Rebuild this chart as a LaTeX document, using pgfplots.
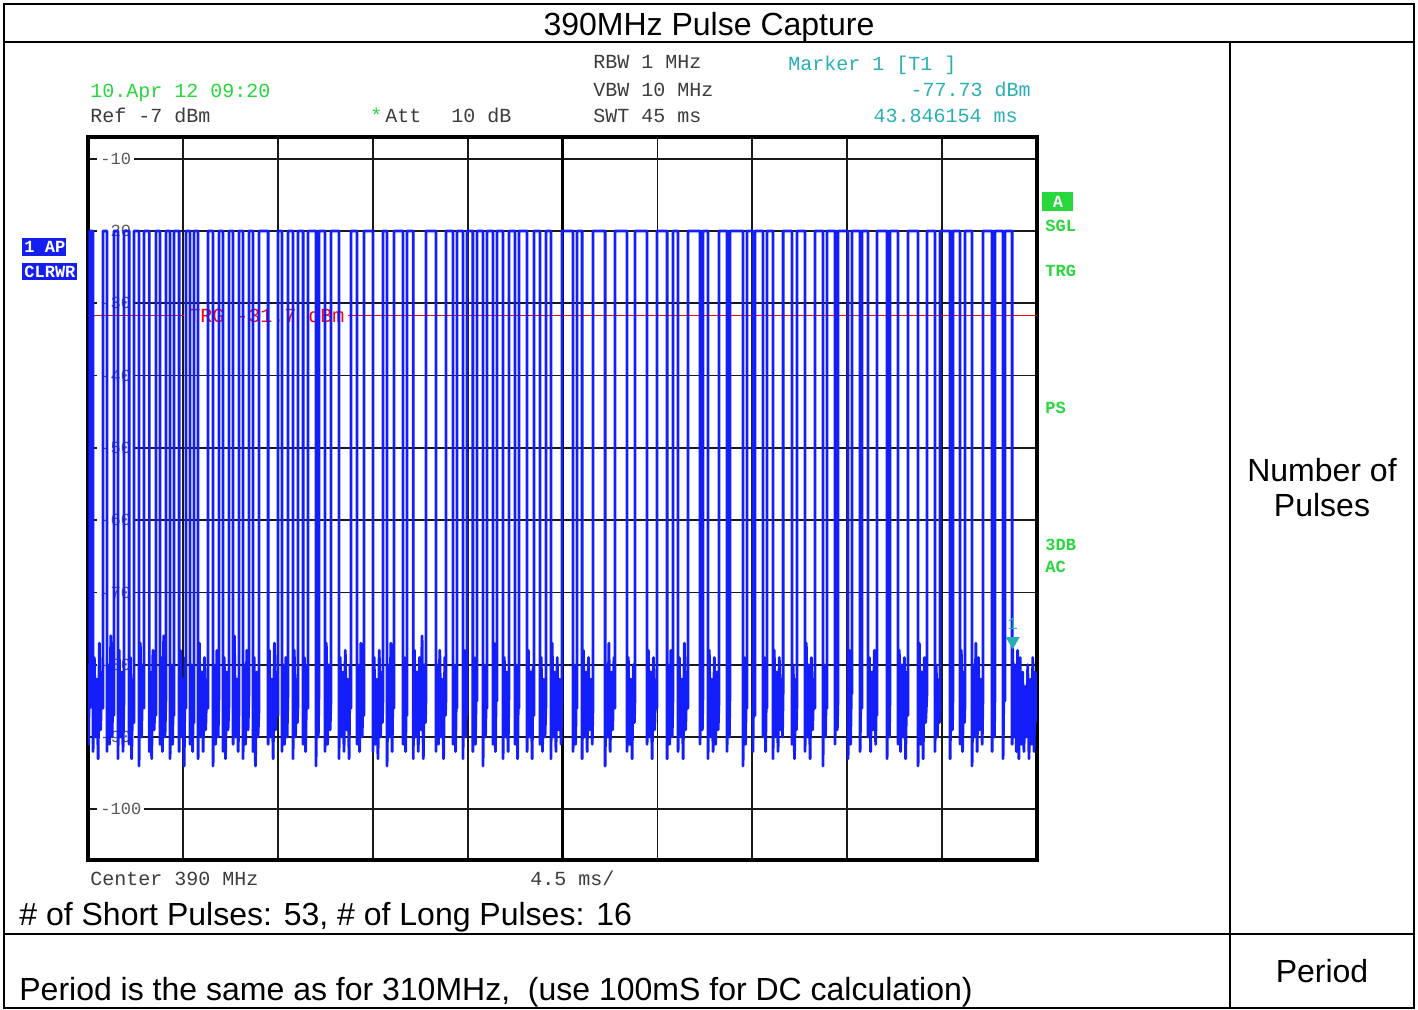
\documentclass[border=0pt]{standalone}
\usepackage{fontspec}
\setmainfont{Liberation Sans}
\newfontfamily\mono{Liberation Mono}
\usepackage{pgfplots}
\pgfplotsset{compat=1.18}

\definecolor{trace}{RGB}{20,30,250}
\definecolor{fsgreen}{RGB}{40,215,60}
\definecolor{fsteal}{RGB}{40,175,180}
\definecolor{fsblue}{RGB}{20,30,240}
\definecolor{fsgray}{RGB}{60,60,60}

\newcommand{\monof}[1]{\mono\fontsize{#1}{#1}\selectfont}
\newcommand{\labf}[1]{\mono\bfseries\fontsize{#1}{#1}\selectfont}
\newcommand{\cellf}{\fontsize{16}{16}\selectfont}

\begin{document}
\begin{tikzpicture}[x=0.5pt,y=0.5pt]
\useasboundingbox (0,0) rectangle (1418,1010);

% table frame
\draw[line width=1pt] (4,2) rectangle (1414,1006);
\draw[line width=1pt] (4,968) -- (1414,968);
\draw[line width=1pt] (4,76) -- (1414,76);
\draw[line width=1pt] (1230,968) -- (1230,2);

% table texts
\node[anchor=base, font=\cellf, inner sep=0] at (709,974) {390MHz Pulse Capture};
\node[anchor=base, font=\cellf, inner sep=0] at (1322,528) {Number of};
\node[anchor=base, font=\cellf, inner sep=0] at (1322,493) {Pulses};
\node[anchor=base, font=\cellf, inner sep=0] at (1322,27) {Period};
\node[anchor=base west, font=\cellf, inner sep=0] at (19,84) {\# of Short Pulses: 53, \# of Long Pulses: 16};
\node[anchor=base west, font=\cellf, inner sep=0] at (19,9) {Period is the same as for 310MHz,\ \ (use 100mS for DC calculation)};

% analyzer header
\node[anchor=base west, inner sep=0, text=fsgreen, font=\monof{10}] at (90,912) {10.Apr 12 09:20};
\node[anchor=base west, inner sep=0, text=fsgray, font=\monof{10}] at (90,887) {Ref -7 dBm};
\node[anchor=base west, inner sep=0, text=fsgreen, font=\monof{10}] at (370,887) {*};
\node[anchor=base west, inner sep=0, text=fsgray, font=\monof{10}] at (385,887) {Att};
\node[anchor=base west, inner sep=0, text=fsgray, font=\monof{10}] at (451,887) {10 dB};
\node[anchor=base west, inner sep=0, text=fsgray, font=\monof{10}] at (593,941) {RBW 1 MHz};
\node[anchor=base west, inner sep=0, text=fsgray, font=\monof{10}] at (593,913) {VBW 10 MHz};
\node[anchor=base west, inner sep=0, text=fsgray, font=\monof{10}] at (593,887) {SWT 45 ms};
\node[anchor=base west, inner sep=0, text=fsteal, font=\monof{10}] at (788,939) {Marker 1 [T1 ]};
\node[anchor=base east, inner sep=0, text=fsteal, font=\monof{10}] at (1031,913) {-77.73 dBm};
\node[anchor=base east, inner sep=0, text=fsteal, font=\monof{10}] at (1018,887) {43.846154 ms};
\node[anchor=base west, inner sep=0, text=fsgray, font=\monof{10}] at (90,124) {Center 390 MHz};
\node[anchor=base west, inner sep=0, text=fsgray, font=\monof{10}] at (530,124) {4.5 ms/};

% side annotations
\fill[fsblue] (22,754) rectangle (66,772);
\begin{scope}
\clip (22,754) rectangle (66,772);
\node[anchor=west, inner sep=0, text=white, font=\labf{8.5}] at (24,763) {1 AP};
\end{scope}
\fill[fsblue] (22,730) rectangle (77,747);
\node[anchor=west, inner sep=0, text=white, font=\labf{8.5}] at (24,738.5) {CLRWR};
\fill[fsgreen] (1042,799) rectangle (1073,818);
\node[inner sep=0, text=white, font=\labf{8.5}] at (1058,808.5) {A};
\node[anchor=west, inner sep=0, text=fsgreen, font=\labf{8.5}] at (1045,784) {SGL};
\node[anchor=west, inner sep=0, text=fsgreen, font=\labf{8.5}] at (1045,739) {TRG};
\node[anchor=west, inner sep=0, text=fsgreen, font=\labf{8.5}] at (1045,602) {PS};
\node[anchor=west, inner sep=0, text=fsgreen, font=\labf{8.5}] at (1045,465) {3DB};
\node[anchor=west, inner sep=0, text=fsgreen, font=\labf{8.5}] at (1045,443) {AC};

\begin{axis}[
  at={(44pt,75pt)}, anchor=south west,
  scale only axis, width=474.5pt, height=361.5pt,
  xmin=0, xmax=45, ymin=-107, ymax=-7,
  xtick={4.5,9,13.5,18,22.5,27,31.5,36,40.5},
  ytick={-100,-90,-80,-70,-60,-50,-40,-30,-20,-10},
  xticklabels={}, yticklabels={},
  major tick length=0pt,
  grid=major,
  grid style={black!90, line width=0.9pt},
  axis line style={black, line width=1.6pt},
]
% centre division
\draw[black, line width=1.5pt] (axis cs:22.5,-107) -- (axis cs:22.5,-7);

% level labels inside the grid
\pgfplotsinvokeforeach{-10,-20,-30,-40,-50,-60,-70,-80,-90,-100}{
  \node[anchor=west, fill=white, inner xsep=1.5pt, inner ysep=0.5pt, text=black!65, font=\monof{8.5}] at (axis cs:0.43,#1) {#1};
}

% trigger level
\draw[red, line width=0.5pt] (axis cs:0,-31.7) -- (axis cs:45,-31.7);
\node[anchor=west, fill=white, inner xsep=2pt, inner ysep=0.5pt, text=red, font=\monof{10}] at (axis cs:4.55,-31.7) {TRG -31.7 dBm};

% zero-span trace, time in ms against level in dBm
\addplot[trace, line width=1.4pt, line join=round] coordinates {
(0.00,-84) (0.03,-91) (0.06,-80) (0.09,-86) (0.09,-20) (0.24,-20) (0.24,-92)
(0.30,-79) (0.36,-90) (0.42,-82) (0.48,-93) (0.54,-77) (0.60,-89) (0.66,-81)
(0.71,-86) (0.71,-20) (0.90,-20) (0.90,-92)
(0.96,-80) (1.02,-91) (1.08,-76) (1.14,-90) (1.19,-83)
(1.23,-87) (1.23,-20) (1.42,-20) (1.42,-93)
(1.48,-78) (1.54,-90) (1.60,-81) (1.66,-92)
(1.71,-84) (1.71,-20) (1.95,-20) (1.95,-91)
(2.01,-79) (2.07,-93) (2.13,-82)
(2.18,-88) (2.18,-20) (2.42,-20) (2.42,-94)
(2.48,-77) (2.54,-90) (2.60,-80)
(2.66,-86) (2.66,-20) (2.90,-20) (2.90,-92)
(2.96,-81) (3.02,-93) (3.08,-78) (3.14,-89) (3.18,-83)
(3.22,-87) (3.22,-20) (3.41,-20) (3.41,-91)
(3.47,-79) (3.53,-92) (3.59,-76) (3.65,-90)
(3.70,-84) (3.70,-20) (3.89,-20) (3.89,-93)
(3.95,-80) (4.01,-91) (4.05,-83)
(4.08,-87) (4.08,-20) (4.32,-20) (4.32,-92)
(4.38,-78) (4.44,-90) (4.50,-82) (4.56,-94) (4.61,-79)
(4.65,-86) (4.65,-20) (4.84,-20) (4.84,-91)
(4.90,-80) (4.96,-92) (5.00,-84)
(5.03,-88) (5.03,-20) (5.22,-20) (5.22,-93)
(5.28,-77) (5.34,-90) (5.40,-81) (5.46,-92) (5.52,-79) (5.58,-89) (5.64,-82)
(5.69,-86) (5.69,-20) (5.93,-20) (5.93,-94)
(5.99,-80) (6.05,-91) (6.11,-78) (6.17,-90)
(6.21,-84) (6.21,-20) (6.40,-20) (6.40,-92)
(6.46,-79) (6.52,-93) (6.58,-81) (6.64,-89)
(6.69,-85) (6.69,-20) (6.88,-20) (6.88,-91)
(6.94,-76) (7.00,-90) (7.06,-82) (7.12,-92)
(7.16,-86) (7.16,-20) (7.35,-20) (7.35,-93)
(7.41,-80) (7.47,-91) (7.53,-78) (7.59,-89)
(7.63,-84) (7.63,-20) (7.82,-20) (7.82,-92)
(7.88,-79) (7.94,-94) (8.00,-81) (8.06,-90)
(8.11,-86) (8.11,-20) (8.54,-20) (8.54,-91)
(8.60,-78) (8.66,-90) (8.72,-82) (8.78,-93) (8.84,-77) (8.90,-89) (8.96,-81)
(9.01,-87) (9.01,-20) (9.20,-20) (9.20,-92)
(9.26,-80) (9.32,-91) (9.38,-79) (9.44,-90)
(9.48,-84) (9.48,-20) (9.72,-20) (9.72,-93)
(9.78,-78) (9.84,-90) (9.90,-82) (9.93,-88)
(9.96,-85) (9.96,-20) (10.20,-20) (10.20,-91)
(10.26,-79) (10.32,-92) (10.38,-80)
(10.43,-86) (10.43,-20) (10.81,-20) (10.81,-94)
(10.87,-81) (10.92,-90)
(10.95,-84) (10.95,-20) (11.24,-20) (11.24,-92)
(11.30,-77) (11.36,-91) (11.42,-80) (11.48,-89)
(11.52,-85) (11.52,-20) (11.90,-20) (11.90,-93)
(11.96,-79) (12.02,-90) (12.08,-81) (12.14,-92) (12.20,-78) (12.26,-89) (12.32,-82) (12.38,-93) (12.43,-80)
(12.47,-86) (12.47,-20) (12.76,-20) (12.76,-91)
(12.82,-80) (12.88,-92) (12.94,-77) (13.00,-90) (13.05,-83)
(13.09,-87) (13.09,-20) (13.51,-20) (13.51,-92)
(13.57,-79) (13.63,-91) (13.69,-82) (13.75,-93) (13.81,-78) (13.87,-90) (13.93,-81) (13.96,-88)
(13.99,-84) (13.99,-20) (14.18,-20) (14.18,-94)
(14.24,-80) (14.30,-90) (14.36,-77) (14.42,-92) (14.47,-82)
(14.51,-86) (14.51,-20) (14.94,-20) (14.94,-91)
(15.00,-79) (15.06,-92) (15.10,-83)
(15.13,-87) (15.13,-20) (15.42,-20) (15.42,-93)
(15.48,-78) (15.54,-90) (15.60,-81) (15.66,-92) (15.72,-79) (15.78,-89) (15.84,-76) (15.90,-93) (15.96,-80) (16.00,-88)
(16.03,-84) (16.03,-20) (16.50,-20) (16.50,-92)
(16.56,-80) (16.62,-91) (16.68,-78) (16.74,-90) (16.80,-82) (16.86,-93) (16.92,-79) (16.95,-87)
(16.98,-84) (16.98,-20) (17.31,-20) (17.31,-91)
(17.37,-80) (17.43,-92) (17.47,-83)
(17.50,-86) (17.50,-20) (17.78,-20) (17.78,-93)
(17.84,-78) (17.90,-90) (17.94,-82)
(17.97,-87) (17.97,-20) (18.25,-20) (18.25,-92)
(18.31,-79) (18.37,-91) (18.42,-81)
(18.45,-85) (18.45,-20) (18.73,-20) (18.73,-94)
(18.79,-80) (18.85,-90) (18.89,-83)
(18.92,-86) (18.92,-20) (19.20,-20) (19.20,-91)
(19.26,-77) (19.32,-92) (19.36,-82)
(19.39,-85) (19.39,-20) (19.68,-20) (19.68,-93)
(19.74,-79) (19.80,-90) (19.86,-81) (19.92,-92)
(19.96,-84) (19.96,-20) (20.25,-20) (20.25,-91)
(20.31,-80) (20.37,-93) (20.41,-83)
(20.44,-86) (20.44,-20) (20.82,-20) (20.82,-92)
(20.88,-78) (20.94,-90) (21.00,-81) (21.06,-93) (21.11,-80)
(21.15,-87) (21.15,-20) (21.43,-20) (21.43,-91)
(21.49,-79) (21.55,-92) (21.61,-82) (21.67,-90)
(21.72,-85) (21.72,-20) (21.95,-20) (21.95,-93)
(22.01,-77) (22.07,-90) (22.13,-81) (22.19,-92) (22.25,-79) (22.31,-89) (22.37,-82) (22.43,-91)
(22.48,-84) (22.48,-20) (23.00,-20) (23.00,-92)
(23.06,-80) (23.12,-91) (23.16,-83)
(23.19,-86) (23.19,-20) (23.43,-20) (23.43,-93)
(23.49,-78) (23.55,-90) (23.61,-81) (23.67,-92) (23.73,-79) (23.79,-89) (23.85,-82) (23.91,-91)
(23.95,-85) (23.95,-20) (24.52,-20) (24.52,-94)
(24.58,-80) (24.64,-90) (24.70,-77) (24.76,-92) (24.82,-81) (24.88,-89) (24.94,-79)
(24.99,-86) (24.99,-20) (25.56,-20) (25.56,-92)
(25.62,-79) (25.68,-91) (25.74,-82) (25.80,-93) (25.86,-80) (25.91,-88)
(25.94,-84) (25.94,-20) (26.51,-20) (26.51,-91)
(26.57,-78) (26.63,-90) (26.69,-81) (26.75,-93) (26.81,-79) (26.87,-89) (26.93,-82)
(26.98,-86) (26.98,-20) (27.46,-20) (27.46,-93)
(27.52,-80) (27.58,-91) (27.64,-78) (27.70,-90)
(27.74,-84) (27.74,-20) (27.98,-20) (27.98,-92)
(28.04,-79) (28.10,-90) (28.16,-82) (28.22,-93) (28.28,-77) (28.34,-89) (28.40,-81)
(28.45,-86) (28.45,-20) (29.02,-20) (29.02,-91)
(29.08,-80) (29.13,-89)
(29.16,-84) (29.16,-20) (29.40,-20) (29.40,-93)
(29.46,-78) (29.52,-90) (29.58,-82) (29.64,-92) (29.70,-79) (29.76,-91) (29.82,-81) (29.88,-89)
(29.92,-85) (29.92,-20) (30.30,-20) (30.30,-92)
(30.36,-80) (30.41,-90)
(30.44,-84) (30.44,-20) (31.06,-20) (31.06,-94)
(31.12,-79) (31.18,-91) (31.22,-82)
(31.25,-86) (31.25,-20) (31.53,-20) (31.53,-92)
(31.58,-80)
(31.63,-87) (31.63,-20) (32.01,-20) (32.01,-90)
(32.07,-79) (32.13,-92) (32.17,-83)
(32.20,-86) (32.20,-20) (32.48,-20) (32.48,-93)
(32.54,-78) (32.60,-90) (32.66,-81) (32.72,-92) (32.78,-79) (32.84,-89) (32.90,-82) (32.93,-90)
(32.96,-84) (32.96,-20) (33.38,-20) (33.38,-91)
(33.44,-80) (33.50,-93) (33.56,-82) (33.59,-89)
(33.62,-85) (33.62,-20) (34.00,-20) (34.00,-92)
(34.06,-77) (34.12,-90) (34.18,-80) (34.24,-93) (34.30,-79) (34.36,-89) (34.42,-82)
(34.47,-86) (34.47,-20) (34.85,-20) (34.85,-94)
(34.91,-80) (34.97,-90) (35.01,-83)
(35.04,-86) (35.04,-20) (35.42,-20) (35.42,-91)
(35.48,-79) (35.53,-89)
(35.56,-85) (35.56,-20) (36.04,-20) (36.04,-93)
(36.10,-78) (36.16,-91) (36.20,-83)
(36.23,-84) (36.23,-20) (36.61,-20) (36.61,-92)
(36.66,-82)
(36.70,-86) (36.70,-20) (36.99,-20) (36.99,-90)
(37.05,-79) (37.11,-92) (37.17,-81) (37.23,-89) (37.29,-78) (37.35,-91) (37.38,-84)
(37.41,-87) (37.41,-20) (37.89,-20) (37.89,-93)
(37.95,-80) (38.00,-90)
(38.03,-84) (38.03,-20) (38.41,-20) (38.41,-91)
(38.47,-78) (38.53,-92) (38.59,-80) (38.65,-90) (38.71,-79) (38.77,-93) (38.83,-81)
(38.88,-87) (38.88,-20) (39.36,-20) (39.36,-94)
(39.42,-77) (39.48,-91) (39.54,-81) (39.60,-93) (39.66,-79) (39.72,-88)
(39.78,-84) (39.78,-20) (40.16,-20) (40.16,-92)
(40.22,-80) (40.28,-90) (40.34,-82) (40.37,-88)
(40.40,-86) (40.40,-20) (40.88,-20) (40.88,-93)
(40.94,-79) (40.99,-89)
(41.02,-83) (41.02,-20) (41.35,-20) (41.35,-91)
(41.41,-78) (41.47,-92) (41.53,-81) (41.56,-88)
(41.59,-85) (41.59,-20) (41.92,-20) (41.92,-94)
(41.98,-80) (42.04,-90) (42.10,-77) (42.16,-92) (42.22,-79) (42.28,-89) (42.34,-82) (42.40,-91)
(42.44,-84) (42.44,-20) (42.87,-20) (42.87,-92)
(42.93,-80) (42.98,-90)
(43.01,-83) (43.01,-20) (43.39,-20) (43.39,-93)
(43.44,-81)
(43.48,-85) (43.48,-20) (43.82,-20) (43.82,-91)
(43.846154,-77.73) (43.90,-90) (43.96,-80) (44.02,-92) (44.08,-78) (44.14,-93) (44.20,-79) (44.26,-91) (44.32,-81) (44.38,-92)
(44.44,-83) (44.50,-90) (44.56,-80) (44.62,-93) (44.68,-82) (44.74,-91) (44.80,-79) (44.86,-92) (44.92,-81) (45.00,-88)
};

% marker 1
\addplot[only marks, mark=triangle*, mark size=3.6pt,
  mark options={yshift=3.6pt, rotate=180, fill=fsteal, draw=fsteal}]
  coordinates {(43.846154,-77.73)};
\node[text=fsteal, inner sep=0, font=\monof{8.5}] at (axis cs:43.846154,-77.73) [yshift=12pt] {1};
\end{axis}
\end{tikzpicture}
\end{document}
